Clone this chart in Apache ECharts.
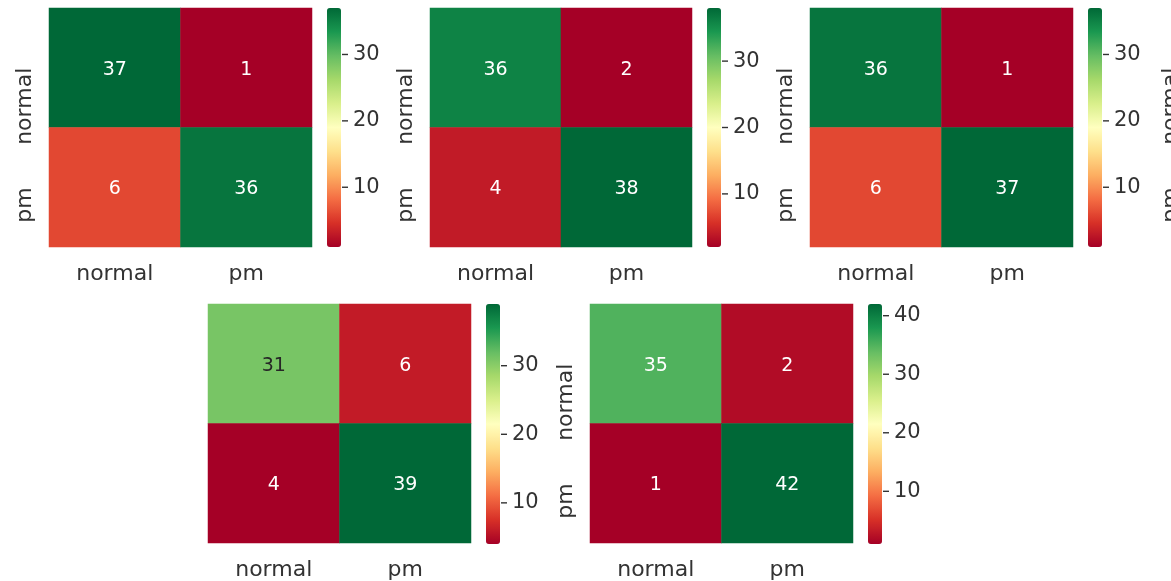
<!DOCTYPE html>
<html>
<head>
<meta charset="utf-8">
<script src="https://cdn.jsdelivr.net/npm/echarts@6/dist/echarts.min.js"></script>
<style>
  html, body { margin: 0; padding: 0; background: #ffffff; }
  #chart { width: 1171px; height: 581px; }
</style>
</head>
<body>
<div id="chart"></div>
<script>
// Confusion matrices: rows = actual class, columns = predicted class
const categories = ['normal', 'pm'];
const matrixA = [[37, 1], [6, 36]];
const matrixB = [[36, 2], [4, 38]];
const matrixC = [[36, 1], [6, 37]];
const matrixD = [[31, 6], [4, 39]];
const matrixE = [[35, 2], [1, 42]];

// Colour bar tick labels
const ticksA = [10, 20, 30];
const ticksB = [10, 20, 30];
const ticksC = [10, 20, 30];
const ticksD = [10, 20, 30];
const ticksE = [10, 20, 30, 40];

// Red-Yellow-Green diverging palette
const RDYLGN = ['#a50026', '#d73027', '#f46d43', '#fdae61', '#fee08b', '#ffffbf',
                '#d9ef8b', '#a6d96a', '#66bd63', '#1a9850', '#006837'];

const FONT = 'DejaVu Sans';
const TEXT = '#333333';

const panels = [
  { m: matrixA, ticks: ticksA, heat: [49, 8, 263, 239],  bar: [327, 8, 14, 239],  yLabels: true },
  { m: matrixB, ticks: ticksB, heat: [430, 8, 262, 239], bar: [707, 8, 14, 239],  yLabels: true },
  { m: matrixC, ticks: ticksC, heat: [810, 8, 263, 239], bar: [1088, 8, 14, 239], yLabels: true },
  { m: matrixD, ticks: ticksD, heat: [208, 304, 263, 240], bar: [486, 304, 14, 240], yLabels: false },
  { m: matrixE, ticks: ticksE, heat: [590, 304, 263, 240], bar: [868, 304, 14, 240], yLabels: true }
];

function hexToRgb(h) {
  return [parseInt(h.slice(1, 3), 16), parseInt(h.slice(3, 5), 16), parseInt(h.slice(5, 7), 16)];
}
function paletteAt(t) {
  t = Math.max(0, Math.min(1, t));
  const pos = t * (RDYLGN.length - 1);
  const i = Math.min(Math.floor(pos), RDYLGN.length - 2);
  const f = pos - i;
  const a = hexToRgb(RDYLGN[i]), b = hexToRgb(RDYLGN[i + 1]);
  return a.map((v, k) => v + (b[k] - v) * f);
}
function luminance(rgb) {
  const lin = rgb.map(c => {
    c /= 255;
    return c <= 0.03928 ? c / 12.92 : Math.pow((c + 0.055) / 1.055, 2.4);
  });
  return 0.2126 * lin[0] + 0.7152 * lin[1] + 0.0722 * lin[2];
}

const grid = [], xAxis = [], yAxis = [], series = [], visualMap = [];

panels.forEach((p, i) => {
  const flat = p.m.flat();
  const vmin = Math.min(...flat), vmax = Math.max(...flat);

  // heatmap grid
  grid.push({ left: p.heat[0], top: p.heat[1], width: p.heat[2], height: p.heat[3] });
  const hg = grid.length - 1;
  xAxis.push({
    type: 'category', gridIndex: hg, data: categories,
    axisLine: { show: false }, axisTick: { show: false }, splitLine: { show: false },
    axisLabel: { fontFamily: FONT, fontSize: 22, color: TEXT, margin: 16 }
  });
  yAxis.push({
    type: 'category', gridIndex: hg, data: categories, inverse: true,
    axisLine: { show: false }, axisTick: { show: false }, splitLine: { show: false },
    axisLabel: { show: p.yLabels, fontFamily: FONT, fontSize: 22, color: TEXT,
                 rotate: 90, align: 'right', margin: 13 }
  });

  const data = [];
  p.m.forEach((row, r) => row.forEach((v, c) => {
    const lum = luminance(paletteAt((v - vmin) / (vmax - vmin)));
    data.push({ value: [c, r, v], label: { color: lum > 0.408 ? '#262626' : '#ffffff' } });
  }));
  series.push({
    type: 'heatmap', xAxisIndex: hg, yAxisIndex: hg, data: data,
    label: { show: true, fontFamily: FONT, fontSize: 19, offset: [0, 2] },
    itemStyle: { borderWidth: 0 },
    emphasis: { disabled: true }
  });
  visualMap.push({
    type: 'continuous', seriesIndex: i, min: vmin, max: vmax,
    orient: 'vertical', left: p.bar[0], top: p.bar[1],
    itemWidth: p.bar[2], itemHeight: p.bar[3], padding: 0,
    calculable: false, hoverLink: false, text: null, showLabel: false,
    inRange: { color: RDYLGN }
  });

  // colour bar scale: each label carries its own short tick stroke
  grid.push({ left: p.bar[0], top: p.bar[1], width: p.bar[2], height: p.bar[3] });
  const bg = grid.length - 1;
  xAxis.push({ type: 'value', gridIndex: bg, show: false });
  yAxis.push({
    type: 'value', gridIndex: bg, position: 'right', min: vmin, max: vmax,
    axisLine: { show: false }, splitLine: { show: false }, axisTick: { show: false },
    axisLabel: {
      customValues: p.ticks, fontFamily: FONT, fontSize: 21, color: TEXT, margin: 1,
      formatter: v => '{tick|}{gap|}' + v,
      rich: {
        tick: { width: 6, height: 1.4, backgroundColor: TEXT },
        gap: { width: 5, height: 1 }
      }
    }
  });
});

// neighbouring matrix beyond the right edge: only its row labels reach the canvas
grid.push({ left: 1195, top: 8, width: 262, height: 239 });
const eg = grid.length - 1;
xAxis.push({ type: 'category', gridIndex: eg, data: categories, show: false });
yAxis.push({
  type: 'category', gridIndex: eg, data: categories, inverse: true,
  axisLine: { show: false }, axisTick: { show: false }, splitLine: { show: false },
  axisLabel: { fontFamily: FONT, fontSize: 22, color: TEXT, rotate: 90, align: 'right', margin: 13 }
});

const chart = echarts.init(document.getElementById('chart'), null, { renderer: 'canvas' });
chart.setOption({
  animation: false,
  backgroundColor: '#ffffff',
  grid: grid, xAxis: xAxis, yAxis: yAxis, visualMap: visualMap, series: series
});
</script>
</body>
</html>
